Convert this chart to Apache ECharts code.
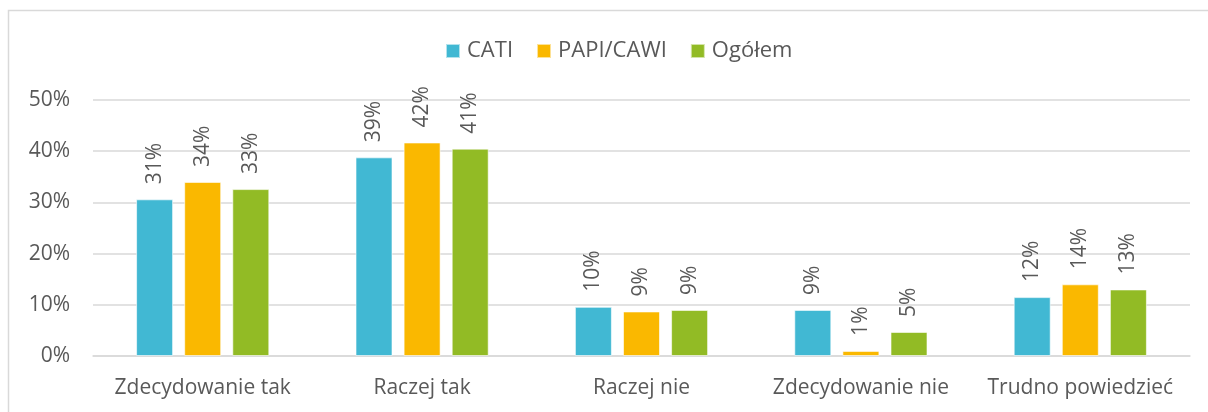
<!DOCTYPE html>
<html>
<head>
<meta charset="utf-8">
<script src="https://cdn.jsdelivr.net/npm/echarts@6/dist/echarts.min.js"></script>
<style>
  html, body { margin: 0; padding: 0; background: #fff; }
  #chart { width: 1208px; height: 412px; }
</style>
</head>
<body>
<div id="chart"></div>
<script>
// Survey answers by interview mode (values in %)
const categories = ['Zdecydowanie tak', 'Raczej tak', 'Raczej nie', 'Zdecydowanie nie', 'Trudno powiedzieć'];
const cati = [30.6, 38.8, 9.6, 9.0, 11.5];
const papiCawi = [34.0, 41.7, 8.7, 1.0, 14.0];
const ogolem = [32.6, 40.5, 9.0, 4.7, 13.0];
const yTicks = [0, 10, 20, 30, 40, 50];

const FONT = '"Open Sans", "Noto Sans", sans-serif';
const TEXT = '#595959';

function makeSeries(name, data) {
  return {
    name: name,
    type: 'bar',
    data: data,
    barWidth: 37,
    barGap: '30%',
    itemStyle: { borderColor: 'rgba(255,255,255,0.6)', borderWidth: 1 },
    label: {
      show: true,
      position: 'top',
      rotate: 90,
      align: 'left',
      verticalAlign: 'middle',
      distance: 15,
      color: TEXT,
      fontFamily: FONT,
      fontSize: 21,
      formatter: p => Math.round(p.value) + '%'
    }
  };
}

const chart = echarts.init(document.getElementById('chart'), null, { renderer: 'canvas' });
chart.setOption({
  animation: false,
  backgroundColor: '#fff',
  color: ['#41B8D3', '#FAB800', '#92BB25'],
  graphic: [{
    type: 'rect',
    silent: true,
    shape: { x: 8.5, y: 10.5, width: 1400, height: 600 },
    style: { fill: 'none', stroke: '#D9D9D9', lineWidth: 1.5 }
  }],
  legend: {
    top: 35,
    left: 440,
    itemWidth: 14,
    itemHeight: 14,
    itemGap: 23,
    icon: 'rect',
    textStyle: { color: TEXT, fontFamily: FONT, fontSize: 22, padding: [0, 0, 0, 2] }
  },
  grid: { left: 93, right: 18, top: 100, bottom: 56, containLabel: false },
  xAxis: {
    type: 'category',
    data: categories,
    axisLine: { lineStyle: { color: '#D9D9D9', width: 1.5 } },
    axisTick: { show: false },
    axisLabel: { color: TEXT, fontFamily: FONT, fontSize: 21, margin: 22, interval: 0 }
  },
  yAxis: {
    type: 'value',
    min: yTicks[0],
    max: yTicks[yTicks.length - 1],
    interval: 10,
    axisLine: { show: false },
    axisTick: { show: false },
    splitLine: { lineStyle: { color: '#D9D9D9', width: 1.5 } },
    axisLabel: { color: TEXT, fontFamily: FONT, fontSize: 21, margin: 23, formatter: v => v + '%' }
  },
  series: [
    makeSeries('CATI', cati),
    makeSeries('PAPI/CAWI', papiCawi),
    makeSeries('Ogółem', ogolem)
  ]
});
</script>
</body>
</html>
